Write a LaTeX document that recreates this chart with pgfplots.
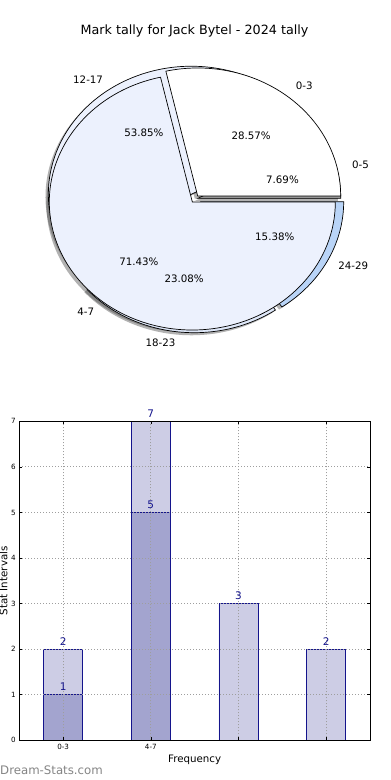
\documentclass[border=0pt]{standalone}
\usepackage{pgfplots}
\pgfplotsset{compat=1.18}
\usepackage{fontspec}
\setmainfont{DejaVu Sans}
\definecolor{pieLight}{RGB}{236,241,253}
\definecolor{pieBa}{RGB}{150,150,150}
\definecolor{pieBb}{RGB}{236,241,253}
\definecolor{pieBc}{RGB}{222,231,248}
\definecolor{pieBd}{RGB}{185,212,247}
\definecolor{navyc}{RGB}{20,20,140}
\definecolor{lightbar}{RGB}{205,205,229}
\definecolor{darkbar}{RGB}{163,164,207}
\tikzset{
  pieshadow/.style={fill=black!75, fill opacity=0.4},
  piewedge/.style={draw=black, line width=0.7bp},
  pielab/.style={font=\fontsize{10.3}{12}\selectfont, inner sep=0pt},
}
% geometry helper: start angle, end angle, explode
\newcommand\pieGeom[3]{%
  \pgfmathsetmacro\pwMid{(#1+#2)/2}%
  \pgfmathsetmacro\pwEx{#3*cos(\pwMid)}%
  \pgfmathsetmacro\pwEy{#3*sin(\pwMid)}%
  \pgfmathsetmacro\pwSx{\pwEx+cos(#1)}%
  \pgfmathsetmacro\pwSy{\pwEy+sin(#1)}%
}
\newcommand\pieShadow[3]{%
  \pieGeom{#1}{#2}{#3}%
  \pgfmathsetmacro\pwEx{\pwEx-0.02}\pgfmathsetmacro\pwEy{\pwEy-0.02}%
  \pgfmathsetmacro\pwSx{\pwSx-0.02}\pgfmathsetmacro\pwSy{\pwSy-0.02}%
  \edef\pwCmd{\noexpand\fill[pieshadow] (axis cs:\pwEx,\pwEy) -- (axis cs:\pwSx,\pwSy) arc[start angle=#1,end angle=#2,x radius=143bp,y radius=128bp] -- cycle;}%
  \pwCmd}
\newcommand\pieWedge[4]{%
  \pieGeom{#1}{#2}{#3}%
  \edef\pwCmd{\noexpand\filldraw[piewedge,fill=#4] (axis cs:\pwEx,\pwEy) -- (axis cs:\pwSx,\pwSy) arc[start angle=#1,end angle=#2,x radius=143bp,y radius=128bp] -- cycle;}%
  \pwCmd}
\newcommand\pieLabels[5]{%
  \pieGeom{#1}{#2}{#3}%
  \pgfmathsetmacro\pwLx{\pwEx+1.1*cos(\pwMid)}%
  \pgfmathsetmacro\pwLy{\pwEy+1.1*sin(\pwMid)}%
  \pgfmathsetmacro\pwPx{\pwEx+0.6*cos(\pwMid)}%
  \pgfmathsetmacro\pwPy{\pwEy+0.6*sin(\pwMid)}%
  \pgfmathparse{\pwLx>0}%
  \ifdim\pgfmathresult pt>0.5pt \def\pwAnc{west}\else\def\pwAnc{east}\fi
  \edef\pwCmd{\noexpand\node[pielab,anchor=\pwAnc] at (axis cs:\pwLx,\pwLy) {#4};
    \noexpand\node[pielab,anchor=center] at (axis cs:\pwPx,\pwPy) {#5};}%
  \pwCmd}
\begin{document}
\begin{tikzpicture}[x=1bp,y=1bp]
\path[use as bounding box, fill=white] (0,0) rectangle (390,780);
% pie A counts: 0-3 = 2, 4-7 = 5 (total 7)
\pgfmathsetmacro\Aa{360*2/7}
% pie B counts: 0-5 = 1, 12-17 = 7, 18-23 = 3, 24-29 = 2 (total 13)
\pgfmathsetmacro\Ba{360*1/13}
\pgfmathsetmacro\Bb{360*8/13}
\pgfmathsetmacro\Bc{360*11/13}
\node[font=\fontsize{12.8}{15}\selectfont] at (194.5,749.5) {Mark tally for Jack Bytel - 2024 tally};
\begin{axis}[at={(195bp,581bp)}, anchor=center, hide axis, x=143bp, y=128bp,
  xmin=-1.4, xmax=1.4, ymin=-1.4, ymax=1.4, clip=false]
  \addplot[draw=none, forget plot] coordinates {(0,0)};
  % shadows
  \pieShadow{0}{\Ba}{0.02}
  \pieShadow{\Ba}{\Bb}{0.045}
  \pieShadow{\Bb}{\Bc}{0.045}
  \pieShadow{\Bc}{360}{0.045}
  \pieShadow{0}{\Aa}{0.03}
  \pieShadow{\Aa}{360}{0.03}
  % pie B wedges
  \pieWedge{0}{\Ba}{0.02}{pieBa}
  \pieWedge{\Ba}{\Bb}{0.045}{pieBb}
  \pieWedge{\Bb}{\Bc}{0.045}{pieBc}
  \pieWedge{\Bc}{360}{0.045}{pieBd}
  % pie A wedges
  \pieWedge{0}{\Aa}{0.03}{white}
  \pieWedge{\Aa}{360}{0.03}{pieLight}
  % labels
  \pieLabels{0}{\Ba}{0.03}{0-5}{7.69\%}
  \pieLabels{\Ba}{\Bb}{0.03}{12-17}{53.85\%}
  \pieLabels{\Bb}{\Bc}{0.03}{18-23}{23.08\%}
  \pieLabels{\Bc}{360}{0.03}{24-29}{15.38\%}
  \pieLabels{0}{\Aa}{0.03}{0-3}{28.57\%}
  \pieLabels{\Aa}{360}{0.03}{4-7}{71.43\%}
\end{axis}
\begin{axis}[
  at={(19.3bp,39.7bp)}, anchor=south west,
  scale only axis, width=350.7bp, height=319bp,
  xmin=-0.5, xmax=3.5, ymin=0, ymax=7,
  xtick={0,1,2,3}, xticklabels={0-3,4-7,{},{}},
  ytick={0,1,...,7},
  grid=major, major grid style={dash pattern=on 1bp off 2bp, black!38, line width=0.8bp},
  axis on top,
  tick align=inside, major tick length=3bp,
  every tick/.style={black, line width=0.5bp},
  axis line style={black, line width=0.8bp},
  ticklabel style={font=\fontsize{7.2}{8}\selectfont},
  /pgf/number format/assume math mode=true,
  xlabel={Frequency}, ylabel={Stat Intervals},
  label style={font=\fontsize{10.3}{12}\selectfont},
  xlabel style={at={(axis description cs:0.5,-0.061)}, anchor=center},
  ylabel style={at={(axis description cs:-0.045,0.5)}, anchor=center},
  clip=false,
]
\addplot[ybar, bar shift=0pt, bar width=0.445, draw=navyc, fill=lightbar, line width=0.9bp,
  nodes near coords, nodes near coords style={text=navyc, font=\fontsize{10.5}{12}\selectfont}]
  table {
x y
0 2
1 7
2 3
3 2
};
\addplot[ybar, bar shift=0pt, bar width=0.445, draw=navyc, fill=darkbar, line width=0.9bp,
  nodes near coords, nodes near coords style={text=navyc, font=\fontsize{10.5}{12}\selectfont}]
  table {
x y
0 1
1 5
};
\end{axis}
\node[anchor=west, inner sep=0pt, text=black!48, font=\fontsize{11.8}{14}\selectfont] at (0,10) {Dream-Stats.com};
\end{tikzpicture}
\end{document}
